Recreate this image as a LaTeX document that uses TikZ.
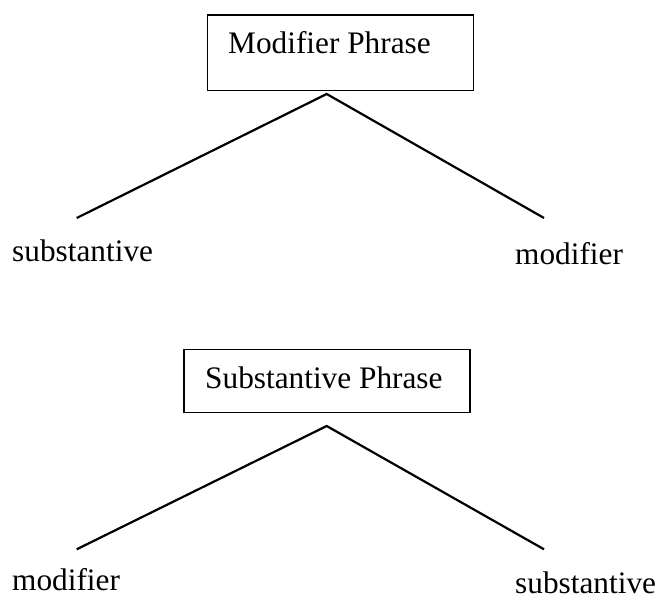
\documentclass[tikz,border=0pt]{standalone}
\usepackage{fontspec}
\setmainfont{Liberation Serif}
\begin{document}
\begin{tikzpicture}[x=1pt,y=-1pt,
  box/.style={draw, line width=1.1pt, inner sep=0pt},
  word/.style={anchor=base west, inner sep=0pt, font=\fontsize{31.3}{36}\selectfont},
  branch/.style={line width=2.2pt, line join=miter}]
\useasboundingbox (0,0) rectangle (660,596);
% top tree
\node[box, minimum width=266pt, minimum height=75.7pt] (b1) at (340.8,52.9) {};
\node[word] (t1) at (228,54) {Modifier Phrase};
\coordinate (a1) at (326.7,94);
\coordinate (l1) at (76.7,218);
\coordinate (r1) at (544,218);
\draw[branch] (l1) -- (a1) -- (r1);
\node[word] (w1) at (12,261) {substantive};
\node[word] (w2) at (515,264) {modifier};
% bottom tree
\node[box, minimum width=286pt, minimum height=63.4pt] (b2) at (327,381) {};
\node[word] (t2) at (205,388) {Substantive Phrase};
\coordinate (a2) at (326.7,426);
\coordinate (l2) at (76.7,549.3);
\coordinate (r2) at (544,549.3);
\draw[branch] (l2) -- (a2) -- (r2);
\node[word] (w3) at (12,590.5) {modifier};
\node[word] (w4) at (515,593.5) {substantive};
\end{tikzpicture}
\end{document}
